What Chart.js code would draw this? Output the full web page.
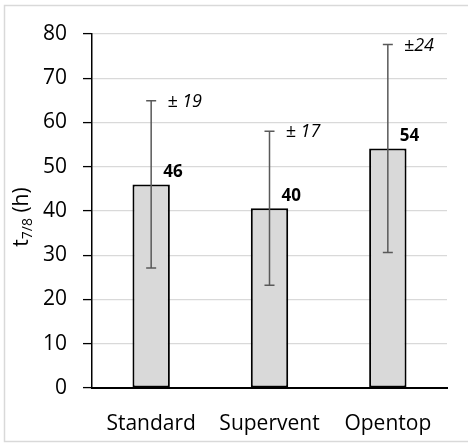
<!DOCTYPE html>
<html>
<head>
<meta charset="utf-8">
<script src="https://cdn.jsdelivr.net/npm/chart.js"></script>
<style>
    html, body { margin: 0; padding: 0; background: #fff; }
    #wrap { width: 468px; height: 443px; }
</style>
</head>
<body>
<div id="wrap"><canvas id="chart" width="468" height="443"></canvas></div>
<script>
// Données du graphique
const categories = ['Standard', 'Supervent', 'Opentop'];
const meanValues = [46, 40.6, 54.1];
const errorValues = [18.9, 17.4, 23.5];
const valueLabels = ['46', '40', '54'];
const errorLabels = ['± 19', '± 17', '±24'];
const yTickValues = [0, 10, 20, 30, 40, 50, 60, 70, 80];

const FONT = '"Open Sans", "Liberation Sans", sans-serif';

// Cadre gris autour du graphique
const framePlugin = {
    id: 'frame',
    beforeDraw(chart) {
        const ctx = chart.ctx;
        ctx.save();
        ctx.fillStyle = '#fff';
        ctx.fillRect(0, 0, chart.width, chart.height);
        ctx.strokeStyle = '#d9d9d9';
        ctx.lineWidth = 1.5;
        ctx.strokeRect(4.5, 5.5, chart.width + 10, 436);
        ctx.restore();
    }
};

// Barres d'erreur (moyenne ± écart)
const errorBarPlugin = {
    id: 'errorBars',
    afterDatasetsDraw(chart) {
        const ctx = chart.ctx;
        const yScale = chart.scales.y;
        const meta = chart.getDatasetMeta(0);
        ctx.save();
        ctx.strokeStyle = '#595959';
        ctx.lineWidth = 1.5;
        meta.data.forEach((bar, i) => {
            const top = yScale.getPixelForValue(meanValues[i] + errorValues[i]);
            const bottom = yScale.getPixelForValue(meanValues[i] - errorValues[i]);
            const cap = 5;
            ctx.beginPath();
            ctx.moveTo(bar.x, top);
            ctx.lineTo(bar.x, bottom);
            ctx.moveTo(bar.x - cap, top);
            ctx.lineTo(bar.x + cap, top);
            ctx.moveTo(bar.x - cap, bottom);
            ctx.lineTo(bar.x + cap, bottom);
            ctx.stroke();
        });
        ctx.restore();
    }
};

// Étiquettes de valeurs et d'écarts
const labelPlugin = {
    id: 'valueLabels',
    afterDatasetsDraw(chart) {
        const ctx = chart.ctx;
        const yScale = chart.scales.y;
        const meta = chart.getDatasetMeta(0);
        ctx.save();
        ctx.fillStyle = '#000';
        ctx.textAlign = 'left';
        ctx.textBaseline = 'middle';
        meta.data.forEach((bar, i) => {
            ctx.font = 'bold 17px ' + FONT;
            ctx.fillText(valueLabels[i], bar.x + 12, yScale.getPixelForValue(meanValues[i]) - 12);
            ctx.font = 'italic 18px ' + FONT;
            ctx.fillText(errorLabels[i], bar.x + 16, yScale.getPixelForValue(meanValues[i] + errorValues[i]) + 1);
        });
        ctx.restore();
    }
};

// Titre de l'axe Y avec indice : t7/8 (h)
const yTitlePlugin = {
    id: 'yTitle',
    afterDraw(chart) {
        const ctx = chart.ctx;
        const area = chart.chartArea;
        const big = '21px ' + FONT;
        const small = '14px ' + FONT;
        ctx.save();
        ctx.translate(28, (area.top + area.bottom) / 2 + 6);
        ctx.rotate(-Math.PI / 2);
        ctx.fillStyle = '#000';
        ctx.textBaseline = 'alphabetic';
        ctx.textAlign = 'left';
        ctx.font = big;
        const w1 = ctx.measureText('t').width;
        const w3 = ctx.measureText(' (h)').width;
        ctx.font = small;
        const w2 = ctx.measureText('7/8').width;
        let x = -(w1 + w2 + w3) / 2;
        ctx.font = big;
        ctx.fillText('t', x, 0);
        x += w1;
        ctx.font = small;
        ctx.fillText('7/8', x, 4);
        x += w2;
        ctx.font = big;
        ctx.fillText(' (h)', x, 0);
        ctx.restore();
    }
};

const config = {
    type: 'bar',
    data: {
        labels: categories,
        datasets: [{
            data: meanValues,
            backgroundColor: '#d9d9d9',
            borderColor: '#000',
            borderWidth: 2,
            borderSkipped: false,
            categoryPercentage: 1,
            barPercentage: 0.316
        }]
    },
    options: {
        responsive: false,
        animation: false,
        layout: {
            padding: { left: 0, top: 34, right: 21, bottom: 0 }
        },
        plugins: {
            legend: { display: false },
            tooltip: { enabled: false }
        },
        scales: {
            x: {
                grid: { display: false, drawTicks: false },
                border: { display: true, color: '#000', width: 2 },
                ticks: {
                    color: '#000',
                    padding: 23,
                    font: { family: FONT, size: 21 }
                },
                afterFit(scale) { scale.height = 55; }
            },
            y: {
                min: 0,
                max: 80,
                afterBuildTicks(scale) {
                    scale.ticks = yTickValues.map(v => ({ value: v }));
                },
                grid: {
                    color: '#d9d9d9',
                    lineWidth: 1.2,
                    tickColor: '#000',
                    tickLength: 9,
                    tickWidth: 1.3
                },
                border: { display: true, color: '#000', width: 1.5 },
                ticks: {
                    color: '#000',
                    padding: 16,
                    font: { family: FONT, size: 21 }
                },
                afterFit(scale) { scale.width = 92; }
            }
        }
    },
    plugins: [framePlugin, errorBarPlugin, labelPlugin, yTitlePlugin]
};

new Chart(document.getElementById('chart'), config);
</script>
</body>
</html>
